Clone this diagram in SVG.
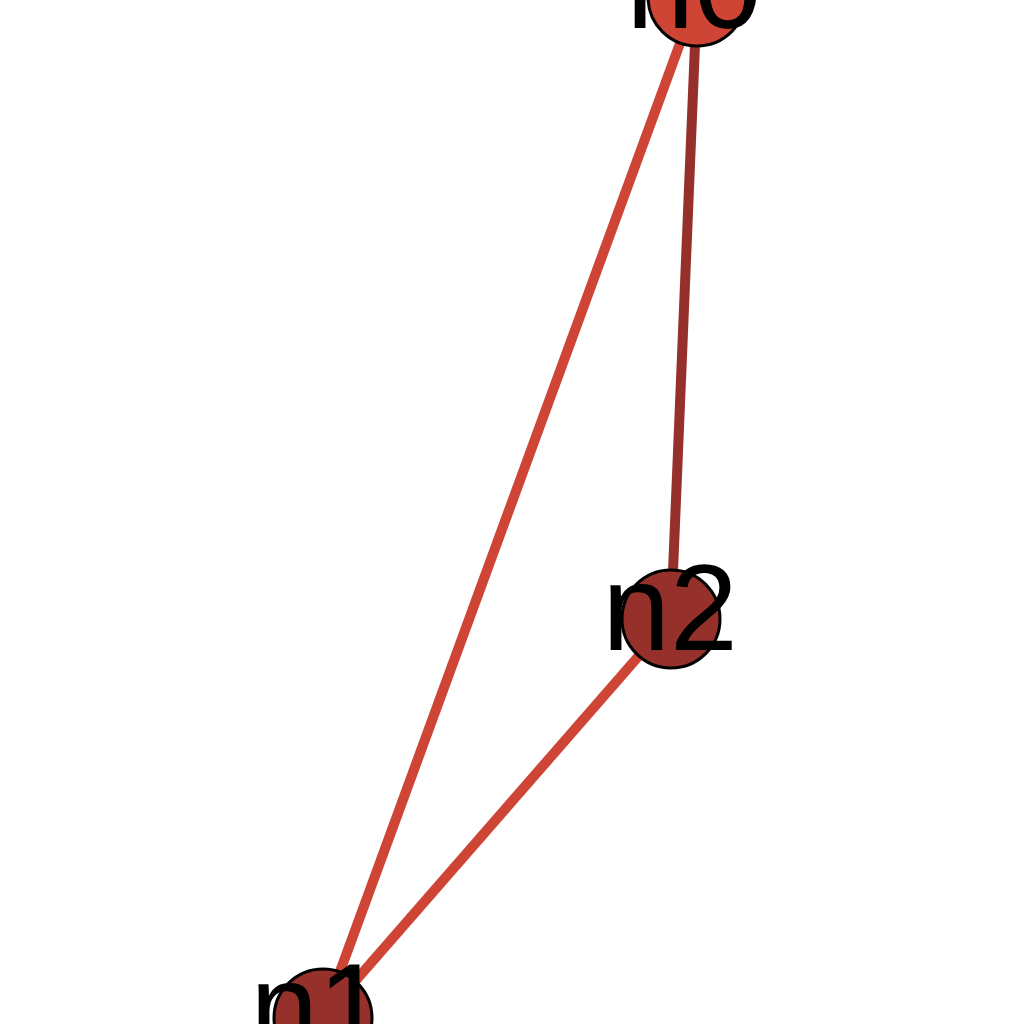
<svg xmlns="http://www.w3.org/2000/svg" width="1024" height="1024" viewBox="0 0 1024 1024">
<style>
.edge{stroke-width:10;fill:none}
.node circle{stroke:#000;stroke-width:3}
.node text{font-family:"Liberation Sans",Arial,sans-serif;font-size:122px;text-anchor:middle;fill:#000}
</style>
<rect width="1024" height="1024" fill="#fff"/>
<g id="edges">
<line class="edge" x1="697" y1="-3" x2="323" y2="1018" stroke="#cf4535"/>
<line class="edge" x1="697" y1="-3" x2="671" y2="619" stroke="#95312a"/>
<line class="edge" x1="671" y1="619" x2="323" y2="1018" stroke="#cf4535"/>
</g>
<g id="n0" class="node"><circle cx="697" cy="-3" r="49" fill="#cf4535"/><text x="694" y="28">n0</text></g>
<g id="n2" class="node"><circle cx="671" cy="619" r="49" fill="#95312a"/><text x="670" y="650">n2</text></g>
<g id="n1" class="node"><circle cx="323" cy="1018" r="49" fill="#95312a"/><text x="318" y="1049">n1</text></g>
</svg>
